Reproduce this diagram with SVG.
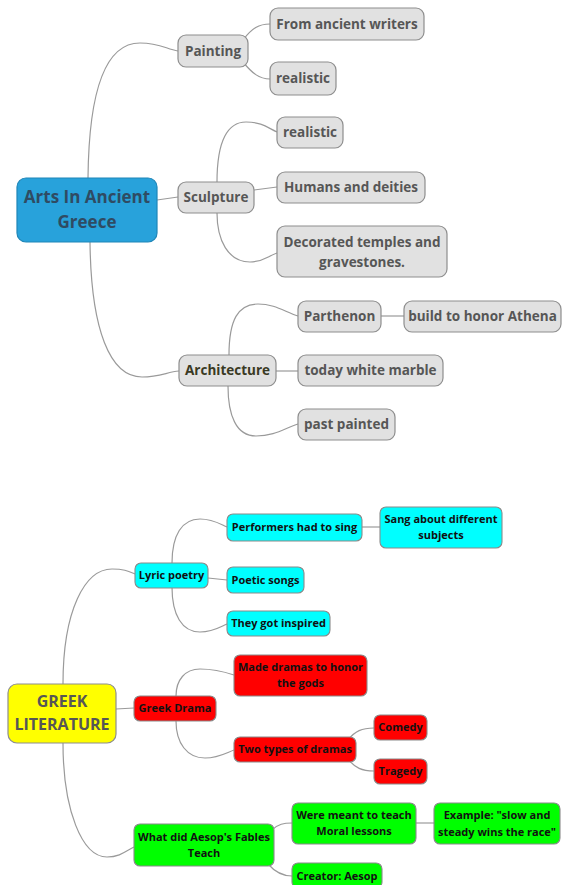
<svg xmlns="http://www.w3.org/2000/svg" width="562" height="885" viewBox="0 0 562 885">
<style>
.g rect{fill:#e1e1e1;stroke:#8e8e8e;stroke-width:1.2}
.g text{font-family:"Open Sans","Noto Sans",sans-serif;font-weight:bold;font-size:13.5px;fill:#565656;text-anchor:middle}
.b text{font-family:"Open Sans","Noto Sans",sans-serif;font-weight:bold;font-size:11px;fill:#111;text-anchor:middle}
.b rect{stroke:#8a8a8a;stroke-width:1.1}
.cy rect{fill:#00ffff}
.rd rect{fill:#ff0000}
.gr rect{fill:#00ff00}
.conn path{fill:none;stroke:#9a9a9a;stroke-width:1.2}
</style>
<rect width="562" height="885" fill="#ffffff"/>
<g class="conn">
<path d="M88 178 C89 80 110 43 140 43 C160 43 166 49 178 51"/>
<path d="M157 200 L178 197"/>
<path d="M90 242 C91 330 110 377 142 377 C160 377 167 372 179 371"/>
<path d="M243 40 C252 28 259 24 270 24"/>
<path d="M243 62 C252 73 259 79 270 79"/>
<path d="M217 182 C217 140 228 122 246 122 C262 122 268 128 277 132"/>
<path d="M254 190 L277 187"/>
<path d="M217 213 C217 240 228 262 250 262 C263 262 268 256 277 253"/>
<path d="M229 355 C229 320 238 304 258 304 C275 304 285 312 298 316"/>
<path d="M276 371 L298 371"/>
<path d="M228 386 C228 415 236 436 256 436 C275 436 285 428 298 424"/>
<path d="M381 316 L404 316"/>
<path d="M63 684 C63 610 85 569 112 569 C124 569 128 571 135 574"/>
<path d="M116 709 L134 708"/>
<path d="M63 743 C63 810 82 857 107 857 C120 857 126 851 134 847"/>
<path d="M172 563 C172 535 182 519 200 519 C213 519 220 524 227 527"/>
<path d="M208 578 L227 580"/>
<path d="M172 587 C172 615 182 632 200 632 C213 632 220 627 227 624"/>
<path d="M362 527 L380 527"/>
<path d="M176 696 C176 680 185 669 200 669 C215 669 225 672 234 675"/>
<path d="M176 721 C176 743 187 758 205 758 C218 758 226 753 234 750"/>
<path d="M348 740 C355 731 362 728 374 728"/>
<path d="M348 759 C355 768 362 771 374 771"/>
<path d="M272 830 C278 824 284 823 292 823"/>
<path d="M416 823 L434 823"/>
<path d="M268 864 C275 872 282 876 292 876"/>
</g>
<g id="root-arts">
<rect x="17" y="178" width="140" height="64" rx="9" fill="#28a2db" stroke="#1f86b8" stroke-width="1.2"/>
<text x="87" y="203" font-family="'Open Sans','Noto Sans',sans-serif" font-weight="bold" font-size="17" fill="#2f4b63" text-anchor="middle">Arts In Ancient</text>
<text x="87" y="228" font-family="'Open Sans','Noto Sans',sans-serif" font-weight="bold" font-size="17" fill="#2f4b63" text-anchor="middle">Greece</text>
</g>
<g id="painting" class="g"><rect x="178" y="35" width="70" height="32" rx="8"/><text x="213" y="56">Painting</text></g>
<g id="sculpture" class="g"><rect x="178" y="182" width="76" height="31" rx="8"/><text x="216" y="202">Sculpture</text></g>
<g id="architecture" class="g"><rect x="179" y="355" width="97" height="31" rx="8"/><text x="227.5" y="375" style="fill:#3a3a24">Architecture</text></g>
<g id="from-ancient-writers" class="g"><rect x="270" y="8" width="154" height="32" rx="8"/><text x="347" y="29">From ancient writers</text></g>
<g id="realistic-1" class="g"><rect x="270" y="62" width="66" height="33" rx="8"/><text x="303" y="83">realistic</text></g>
<g id="realistic-2" class="g"><rect x="277" y="117" width="66" height="31" rx="8"/><text x="310" y="137">realistic</text></g>
<g id="humans-deities" class="g"><rect x="277" y="172" width="148" height="31" rx="8"/><text x="351" y="192">Humans and deities</text></g>
<g id="decorated" class="g"><rect x="277" y="226" width="170" height="51" rx="8"/><text x="362" y="247">Decorated temples and</text><text x="362" y="267">gravestones.</text></g>
<g id="parthenon" class="g"><rect x="298" y="301" width="83" height="31" rx="8"/><text x="339.5" y="321">Parthenon</text></g>
<g id="athena" class="g"><rect x="404" y="301" width="157" height="31" rx="8"/><text x="482.5" y="321">build to honor Athena</text></g>
<g id="white-marble" class="g"><rect x="298" y="355" width="145" height="31" rx="8"/><text x="370.5" y="375">today white marble</text></g>
<g id="past-painted" class="g"><rect x="298" y="409" width="97" height="31" rx="8"/><text x="346.5" y="429">past painted</text></g>
<g id="root-literature">
<rect x="8" y="684" width="108" height="59" rx="9" fill="#ffff00" stroke="#8e8e8e" stroke-width="1.2"/>
<text x="62" y="707" font-family="'Open Sans','Noto Sans',sans-serif" font-weight="bold" font-size="16" fill="#565656" text-anchor="middle">GREEK</text>
<text x="62" y="730" font-family="'Open Sans','Noto Sans',sans-serif" font-weight="bold" font-size="16" fill="#565656" text-anchor="middle">LITERATURE</text>
</g>
<g id="lyric-poetry" class="b cy"><rect x="135" y="563" width="73" height="25" rx="6"/><text x="171.5" y="579">Lyric poetry</text></g>
<g id="performers" class="b cy"><rect x="227" y="514" width="135" height="27" rx="6"/><text x="294.5" y="531">Performers had to sing</text></g>
<g id="sang" class="b cy"><rect x="380" y="507" width="122" height="41" rx="6"/><text x="441" y="523">Sang about different</text><text x="441" y="539">subjects</text></g>
<g id="poetic-songs" class="b cy"><rect x="227" y="567" width="77" height="26" rx="6"/><text x="265.5" y="584">Poetic songs</text></g>
<g id="inspired" class="b cy"><rect x="227" y="611" width="103" height="25" rx="6"/><text x="278.5" y="627">They got inspired</text></g>
<g id="greek-drama" class="b rd"><rect x="134" y="696" width="82" height="25" rx="6"/><text x="175" y="712">Greek Drama</text></g>
<g id="made-dramas" class="b rd"><rect x="234" y="655" width="133" height="41" rx="6"/><text x="300.5" y="671">Made dramas to honor</text><text x="300.5" y="687">the gods</text></g>
<g id="two-types" class="b rd"><rect x="234" y="737" width="122" height="25" rx="6"/><text x="295" y="753">Two types of dramas</text></g>
<g id="comedy" class="b rd"><rect x="374" y="715" width="53" height="25" rx="6"/><text x="400.5" y="731">Comedy</text></g>
<g id="tragedy" class="b rd"><rect x="374" y="759" width="53" height="25" rx="6"/><text x="400.5" y="775">Tragedy</text></g>
<g id="aesop" class="b gr"><rect x="134" y="824" width="140" height="42" rx="6"/><text x="204" y="841">What did Aesop's Fables</text><text x="204" y="857">Teach</text></g>
<g id="moral" class="b gr"><rect x="292" y="803" width="124" height="41" rx="6"/><text x="354" y="819">Were meant to teach</text><text x="354" y="835">Moral lessons</text></g>
<g id="example" class="b gr"><rect x="434" y="803" width="126" height="41" rx="6"/><text x="497" y="819">Example: "slow and</text><text x="497" y="836">steady wins the race"</text></g>
<g id="creator" class="b gr"><rect x="292" y="863" width="90" height="25" rx="6"/><text x="337" y="880">Creator: Aesop</text></g>
</svg>
